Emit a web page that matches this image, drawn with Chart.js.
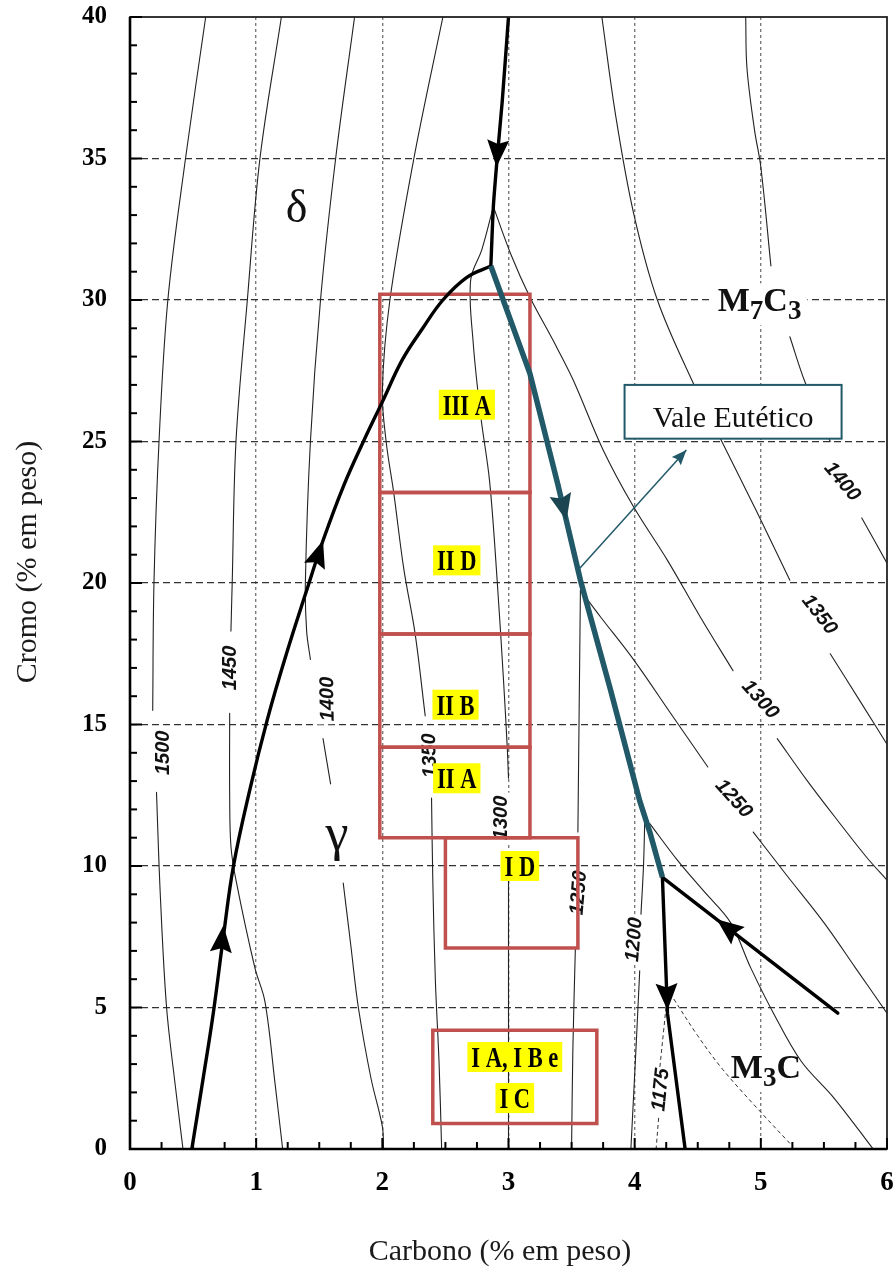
<!DOCTYPE html>
<html><head><meta charset="utf-8">
<script src="https://cdn.jsdelivr.net/npm/chart.js@4.4.1/dist/chart.umd.min.js"></script>
<style>html,body{margin:0;padding:0;background:#fff;}canvas{display:block;}</style>
</head><body>
<canvas id="c" width="896" height="1272"></canvas>
<script>
// ---------------- DATA ----------------
const xTicks = [0, 1, 2, 3, 4, 5, 6];
const yTicks = [0, 5, 10, 15, 20, 25, 30, 35, 40];
const xTitle = 'Carbono (% em peso)';
const yTitle = 'Cromo (% em peso)';

// isotherms (segments split where labels interrupt them)  [C %, Cr %]
const iso1500 = [
  [[0.60,40],[0.44,35],[0.30,30],[0.23,25],[0.19,20],[0.18,15.5]],
  [[0.21,12.6],[0.24,9],[0.29,5],[0.36,2.2],[0.42,0]]
];
const iso1450 = [
  [[1.20,40],[1.03,35],[0.93,30],[0.84,25],[0.81,20],[0.80,18.3]],
  [[0.79,15.4],[0.79,12.5],[0.80,10.7],[0.84,9.5],[0.99,6.4],[1.07,5.2],[1.15,2.3],[1.21,0]]
];
const iso1400 = [
  [[1.78,40],[1.63,35],[1.51,30],[1.43,25],[1.39,20],[1.40,18.3],[1.43,17.3]],
  [[1.53,14.5],[1.59,12.9]],
  [[1.69,9.4],[1.75,7.2],[1.81,5],[1.91,2.5],[2.0,0.8],[2.01,0]]
];
const iso1350g = [
  [[2.48,40],[2.25,35],[2.06,30],[2.0,26.8],[2.03,25],[2.09,23.2],[2.17,20.5],[2.26,18.2],[2.34,15.3]],
  [[2.39,12.4],[2.40,9.5],[2.42,6],[2.45,3],[2.47,0]]
];
const iso1300g = [
  [[2.88,33.3],[2.79,31.8],[2.70,30.7],[2.72,28.5],[2.78,25.9],[2.85,23.6],[2.91,20.1],[2.96,16.6],[2.99,14.2],[3.0,13.1]],
  [[3.0,9.6],[3.0,0]]
];
const iso1300m = [
  [[2.88,33.3],[3.02,31.6],[3.17,30.1],[3.35,28.6],[3.51,27.2],[3.75,24.7],[3.99,22.7],[4.26,20.8],[4.52,18.8],[4.78,16.9]],
  [[5.13,14.5],[5.37,13.0],[5.61,11.6],[5.84,10.3],[6.0,9.5]]
];
const iso1350m = [
  [[3.74,40],[3.85,36.5],[3.99,33.1],[4.18,30.0],[4.46,27.1],[4.68,25.1],[4.97,22.5],[5.23,20.1]],
  [[5.55,17.5],[5.79,15.8],[6.0,14.3]]
];
const iso1400m = [
  [[4.88,40],[4.89,38.2],[4.95,36],[5.0,34.7],[5.08,31.2]],
  [[5.23,28.7],[5.35,27.1],[5.55,25.0]],
  [[5.80,22.3],[6.0,20.7]]
];
const iso1250m = [
  [[3.57,19.75],[3.73,18.8],[3.99,17.3],[4.3,15.3],[4.58,13.5]],
  [[4.94,11.2],[5.2,9.7],[5.5,8.0],[5.75,6.4],[6.0,4.8]]
];
const iso1250g = [
  [[3.57,19.75],[3.56,15.5],[3.55,11.2]],
  [[3.53,7.1],[3.51,3.5],[3.50,0]]
];
const iso1200g = [
  [[4.08,11.6],[4.07,10],[4.05,8.3]],
  [[4.04,6.3],[4.01,3.5],[3.97,0]]
];
const iso1200m = [
  [[4.12,11.5],[4.34,10.2],[4.55,9.1],[4.76,8.0],[4.92,6.4],[5.10,4.8],[5.32,3.1],[5.58,1.8],[5.89,0]]
];
const iso1175g = [
  [[4.26,5.5],[4.23,4.2],[4.20,2.9]],
  [[4.19,1.1],[4.17,0]]
];
const iso1175m = [
  [[4.31,5.3],[4.5,4.0],[4.70,2.8],[5.0,1.3],[5.23,0.2]]
];

// univariant (liquidus valley) lines
const valleyTop = [[3.0,40],[2.95,37],[2.91,35],[2.88,33.3],[2.86,31.2]];
const peritectic = [[0.49,0],[0.58,2.5],[0.66,4.8],[0.74,7.5],[0.82,10],[0.95,12.7],[1.09,15.2],[1.24,17.5],[1.39,19.6],[1.53,21.5],[1.69,23.4],[1.85,25.0],[2.0,26.4],[2.16,27.9],[2.32,29.0],[2.48,30.0],[2.67,30.8],[2.86,31.2]];
const eutecticValley = [[2.86,31.2],[3.17,27.4],[3.39,23.5],[3.57,20.1],[3.81,16.2],[4.04,12.3],[4.12,11.2],[4.22,9.6]];
const valleyM3C = [[4.22,9.6],[4.26,4.8],[4.40,0]];
const valleyM7M3 = [[4.22,9.6],[5.61,4.8]];

// flow-direction arrows [fromC, fromCr, tipC, tipCr]
const flowArrows = [
  [2.93,36.5, 2.905,34.7],
  [1.44,20.3, 1.53,21.5],
  [0.70,6.0, 0.74,7.9],
  [4.245,6.8, 4.26,4.9],
  [4.95,7.08, 4.65,8.12]
];
const valleyArrow = [3.37,23.9, 3.46,22.2];

// composition zones [C min, C max, Cr min, Cr max]
const zoneBoxes = [
  [1.98,3.17,23.2,30.2],
  [1.98,3.17,18.2,23.2],
  [1.98,3.17,14.2,18.2],
  [1.98,3.17,11.0,14.2],
  [2.50,3.55,7.1,11.0],
  [2.40,3.70,0.9,4.2]
];
const zoneNames = ['III A','II D','II B','II A','I D','I A, I B e','I C'];
const zoneNamePos = [[2.67,26.3],[2.59,20.8],[2.58,15.7],[2.59,13.1],[3.09,10.0],[3.05,3.25],[3.05,1.8]];

// isotherm labels [text, C, Cr, angle]
const isoLabels = [
  ['1500',0.26,14.0,-90],['1450',0.79,17.0,-90],['1400',1.56,15.9,-91],
  ['1350',2.37,13.9,-92],['1300',2.94,11.7,-90],['1250',3.55,9.05,-85],
  ['1200',3.99,7.4,-85],['1175',4.20,2.1,-84],
  ['1400',5.65,23.6,50],['1350',5.47,18.9,52],['1300',5.0,15.9,48],['1250',4.79,12.4,48]
];
const phaseFormulas = [
  {parts:[['M',0],['7',1],['C',0],['3',1]], at:[4.99,29.6]},
  {parts:[['M',0],['3',1],['C',0]], at:[5.04,2.51]}
];
const greekLabels = [['δ',1.32,32.76,46],['γ',1.64,10.57,52]];
const valeText = 'Vale Eutético';
const valeBox = [3.92,5.64,25.1,27.0];
const valeTextAt = [4.78,25.5];
const valePointer = [3.54,20.4, 4.41,24.7];

// ---------------- CHART ----------------
const SERIF = '"Liberation Serif","Times New Roman",serif';
const SANS = '"Liberation Sans",Arial,sans-serif';
const datasets = [];
function addLine(points, color, width, opts) {
  datasets.push(Object.assign({
    data: points.map(p => ({x: p[0], y: p[1]})),
    showLine: true, pointRadius: 0, pointHoverRadius: 0,
    borderColor: color, borderWidth: width, tension: 0.35, fill: false,
    borderCapStyle: 'round', borderJoinStyle: 'round', order: 5
  }, opts || {}));
}
[iso1500, iso1450, iso1400, iso1350g, iso1300g, iso1300m, iso1350m, iso1400m, iso1250m, iso1250g, iso1200g, iso1200m]
  .forEach(iso => iso.forEach(seg => addLine(seg, '#222', 1.1)));
[iso1175g, iso1175m].forEach(iso => iso.forEach(seg => addLine(seg, '#333', 1, {borderDash:[4,3], borderCapStyle:'butt'})));
zoneBoxes.forEach(b => addLine([[b[0],b[2]],[b[1],b[2]],[b[1],b[3]],[b[0],b[3]],[b[0],b[2]]], '#C0504D', 3.5,
  {tension:0, borderJoinStyle:'miter', borderCapStyle:'square', order:3}));
addLine(valleyTop, '#000', 3.4, {tension:0.2, order:1});
addLine(peritectic, '#000', 3.4, {tension:0.4, order:1});
addLine(valleyM3C, '#000', 3.4, {tension:0, order:1});
addLine(valleyM7M3, '#000', 3.4, {tension:0, order:1});
addLine(eutecticValley, '#215968', 5.5, {tension:0, order:0, borderCapStyle:'butt'});

function P(ch, x, y) { return [ch.scales.x.getPixelForValue(x), ch.scales.y.getPixelForValue(y)]; }
function arrowHead(c, x1, y1, x2, y2, L, W, color) {
  const a = Math.atan2(y2 - y1, x2 - x1);
  c.save(); c.translate(x2, y2); c.rotate(a);
  c.beginPath(); c.moveTo(0,0); c.lineTo(-L, -W); c.lineTo(-L*0.85, 0); c.lineTo(-L, W); c.closePath();
  c.fillStyle = color; c.fill(); c.restore();
}

const underlay = {
  id: 'underlay',
  beforeDatasetsDraw(ch) {
    const c = ch.ctx; c.save();
    c.font = 'italic bold 20px ' + SANS;
    c.textAlign = 'center'; c.textBaseline = 'middle';
    isoLabels.forEach(([t,x,y,a]) => {
      const [X,Y] = P(ch,x,y);
      c.save(); c.translate(X,Y); c.rotate(a*Math.PI/180);
      const w = c.measureText(t).width;
      c.fillStyle = '#fff'; c.fillRect(-w/2-3, -11, w+6, 22);
      c.fillStyle = '#111'; c.fillText(t, 0, 1);
      c.restore();
    });
    phaseFormulas.forEach(f => {
      const [X,Y] = P(ch, f.at[0], f.at[1]);
      const big = 'bold 34px ' + SERIF, small = 'bold 27px ' + SERIF;
      let w = 0;
      f.parts.forEach(([t,s]) => { c.font = s ? small : big; w += c.measureText(t).width; });
      c.fillStyle = '#fff'; c.fillRect(X - w/2 - 6, Y - 28, w + 12, 42);
      let cx = X - w/2; c.fillStyle = '#111'; c.textAlign = 'left'; c.textBaseline = 'alphabetic';
      f.parts.forEach(([t,s]) => { c.font = s ? small : big; c.fillText(t, cx, Y + (s ? 8 : 0)); cx += c.measureText(t).width; });
    });
    greekLabels.forEach(([t,x,y,sz]) => {
      const [X,Y] = P(ch,x,y);
      c.font = sz + 'px ' + SERIF; c.textAlign = 'center'; c.textBaseline = 'alphabetic';
      const w = c.measureText(t).width;
      c.fillStyle = '#fff'; c.fillRect(X - w/2 - 4, Y - sz*0.55, w + 8, sz*0.8);
      c.fillStyle = '#111'; c.fillText(t, X, Y);
    });
    c.restore();
  },
  afterDatasetsDraw(ch) {
    const c = ch.ctx; c.save();
    flowArrows.forEach(a => {
      const [x1,y1] = P(ch,a[0],a[1]); const [x2,y2] = P(ch,a[2],a[3]);
      arrowHead(c, x1, y1, x2, y2, 27, 11, '#000');
    });
    { const [x1,y1] = P(ch,valleyArrow[0],valleyArrow[1]); const [x2,y2] = P(ch,valleyArrow[2],valleyArrow[3]);
      arrowHead(c, x1, y1, x2, y2, 27, 11, '#1b4550'); }
    zoneNames.forEach((t,i) => {
      const [X,Y] = P(ch, zoneNamePos[i][0], zoneNamePos[i][1]);
      c.font = 'bold 30px ' + SERIF;
      const w = c.measureText(t).width * 0.75;
      c.fillStyle = '#ffff00'; c.fillRect(X - w/2 - 4, Y - 15, w + 8, 30);
      c.save(); c.translate(X, Y + 10); c.scale(0.75, 1);
      c.fillStyle = '#000'; c.textAlign = 'center'; c.textBaseline = 'alphabetic';
      c.fillText(t, 0, 0); c.restore();
    });
    { const [ax,ay] = P(ch,valePointer[0],valePointer[1]); const [bx,by] = P(ch,valePointer[2],valePointer[3]);
      c.strokeStyle = '#215968'; c.lineWidth = 1.5; c.beginPath(); c.moveTo(ax,ay); c.lineTo(bx,by); c.stroke();
      arrowHead(c, ax, ay, bx, by, 15, 6, '#215968');
      const [l,t] = P(ch,valeBox[0],valeBox[3]); const [r,b] = P(ch,valeBox[1],valeBox[2]);
      c.fillStyle = '#fff'; c.fillRect(l,t,r-l,b-t);
      c.strokeStyle = '#215968'; c.lineWidth = 2; c.strokeRect(l,t,r-l,b-t);
      const [tx,ty] = P(ch,valeTextAt[0],valeTextAt[1]);
      c.font = '30px ' + SERIF; c.fillStyle = '#111'; c.textAlign = 'center'; c.textBaseline = 'alphabetic';
      c.fillText(valeText, tx, ty); }
    c.restore();
  },
  afterDraw(ch) {
    const c = ch.ctx, a = ch.chartArea; c.save();
    c.strokeStyle = '#222'; c.lineWidth = 1.8;
    c.strokeRect(a.left, a.top, a.right - a.left, a.bottom - a.top);
    c.strokeStyle = '#000'; c.lineWidth = 2.6;
    c.beginPath(); c.moveTo(a.left, a.top); c.lineTo(a.left, a.bottom); c.lineTo(a.right, a.bottom); c.stroke();
    c.lineWidth = 2;
    for (let v = 0; v <= 6.001; v += 0.25) {
      const X = ch.scales.x.getPixelForValue(v); const major = Math.abs(v - Math.round(v)) < 1e-6;
      c.beginPath(); c.moveTo(X, a.bottom); c.lineTo(X, a.bottom - (major ? 11 : 7)); c.stroke();
    }
    for (let v = 0; v <= 40; v += 1) {
      const Y = ch.scales.y.getPixelForValue(v); const major = v % 5 === 0;
      c.beginPath(); c.moveTo(a.left, Y); c.lineTo(a.left + (major ? 12 : 7), Y); c.stroke();
    }
    c.fillStyle = '#1a1a1a'; c.font = '30px ' + SERIF; c.textAlign = 'center'; c.textBaseline = 'middle';
    c.fillText(xTitle, 500, 1252);
    c.save(); c.translate(28, 562); c.rotate(-Math.PI/2); c.fillText(yTitle, 0, 0); c.restore();
    c.restore();
  }
};

new Chart(document.getElementById('c'), {
  type: 'scatter',
  data: { datasets },
  options: {
    responsive: false, animation: false, devicePixelRatio: 1,
    events: [],
    layout: { padding: { top: 17, right: 9, left: 0, bottom: 0 } },
    plugins: { legend: { display: false }, tooltip: { enabled: false } },
    scales: {
      x: {
        type: 'linear', min: xTicks[0], max: xTicks[xTicks.length-1],
        afterBuildTicks: s => { s.ticks = xTicks.map(v => ({value: v})); },
        ticks: { padding: 18, color: '#000', font: { family: SERIF, size: 27, weight: 'bold' } },
        grid: { drawTicks: false, lineWidth: 1.4,
          color: ctx => (ctx.tick && (ctx.tick.value === xTicks[0] || ctx.tick.value === xTicks[xTicks.length-1])) ? 'rgba(0,0,0,0)' : '#7a7a7a' },
        border: { display: false, dash: [3, 3] },
        afterFit: s => { s.height = 123; s.paddingLeft = 0; s.paddingRight = 0; }
      },
      y: {
        type: 'linear', min: yTicks[0], max: yTicks[yTicks.length-1],
        afterBuildTicks: s => { s.ticks = yTicks.map(v => ({value: v})); },
        ticks: { padding: 23, color: '#000', font: { family: SERIF, size: 25, weight: 'bold' } },
        grid: { drawTicks: false, lineWidth: 1.2,
          color: ctx => (ctx.tick && (ctx.tick.value === yTicks[0] || ctx.tick.value === yTicks[yTicks.length-1])) ? 'rgba(0,0,0,0)' : '#333' },
        border: { display: false, dash: [7, 4] },
        afterFit: s => { s.width = 130; s.paddingTop = 0; s.paddingBottom = 0; }
      }
    }
  },
  plugins: [underlay]
});
</script>
</body></html>
